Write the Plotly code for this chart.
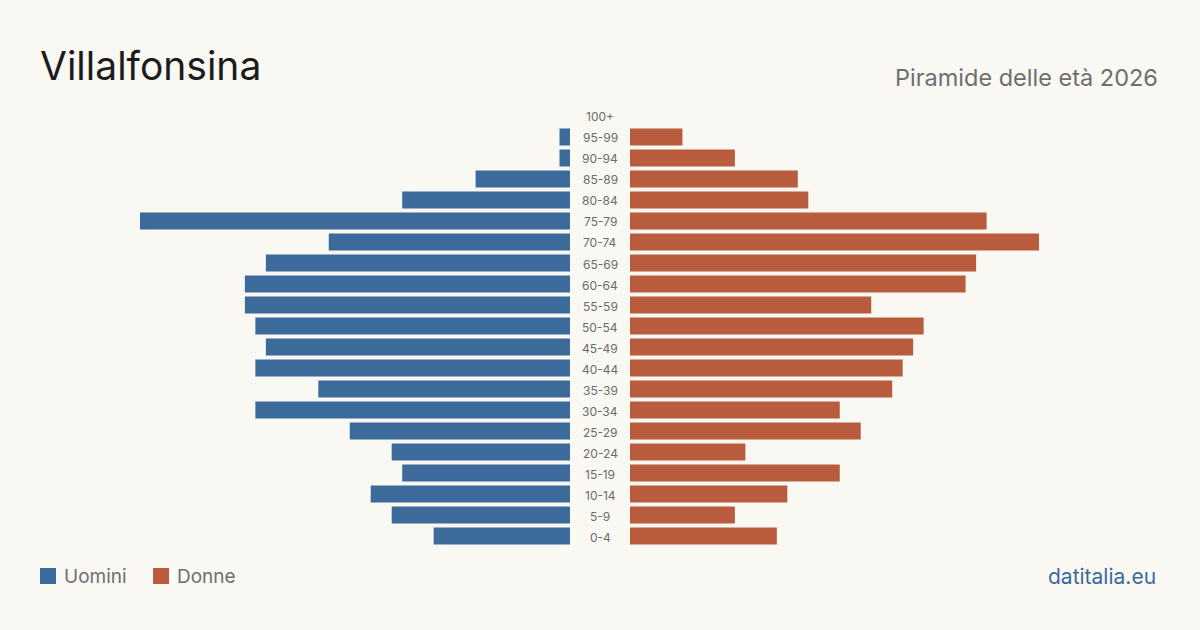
import plotly.graph_objects as go

ages = ["0-4", "5-9", "10-14", "15-19", "20-24", "25-29", "30-34", "35-39", "40-44",
        "45-49", "50-54", "55-59", "60-64", "65-69", "70-74", "75-79", "80-84",
        "85-89", "90-94", "95-99", "100+"]
uomini = [13, 17, 19, 16, 17, 21, 30, 24, 30, 29, 30, 31, 31, 29, 23, 41, 16, 9, 1, 1, 0]
donne = [14, 10, 15, 20, 11, 22, 20, 25, 26, 27, 28, 23, 32, 33, 39, 34, 17, 16, 10, 5, 0]

title = "Villalfonsina"
subtitle = "Piramide delle età 2026"
source = "datitalia.eu"
legend_names = ["Uomini", "Donne"]

W, H = 1200, 630
BLUE = "#3b6a9b"
ORANGE = "#b95c3d"
BG = "#f9f8f3"
FONT = "Inter, Roboto, sans-serif"

xmax = max(max(uomini), max(donne))

fig = go.Figure()
fig.add_trace(go.Bar(y=ages, x=uomini, orientation="h", marker=dict(color=BLUE, line=dict(width=0)),
                     name=legend_names[0], xaxis="x", yaxis="y", showlegend=False,
                     hoverinfo="x+y"))
fig.add_trace(go.Bar(y=ages, x=donne, orientation="h", marker=dict(color=ORANGE, line=dict(width=0)),
                     name=legend_names[1], xaxis="x2", yaxis="y", showlegend=False,
                     hoverinfo="x+y"))

y0 = (H - 546.5) / H
y1 = (H - 105.5) / H

fig.update_layout(
    width=W, height=H,
    paper_bgcolor=BG, plot_bgcolor=BG,
    margin=dict(l=0, r=0, t=0, b=0),
    bargap=0.19,
    xaxis=dict(domain=[140 / W, 570 / W], range=[xmax, 0], visible=False, fixedrange=True),
    xaxis2=dict(domain=[630 / W, 1060 / W], range=[0, xmax], visible=False, fixedrange=True),
    yaxis=dict(domain=[y0, y1], type="category", categoryorder="array",
               categoryarray=ages, range=[-0.5, len(ages) - 0.5], visible=False,
               fixedrange=True),
    font=dict(family=FONT),
)

annotations = []
for a in ages:
    annotations.append(dict(x=0.5, y=a, xref="paper", yref="y", text=a, showarrow=False,
                            font=dict(size=12, color="#6b6b6b", family=FONT),
                            xanchor="center", yanchor="middle", yshift=-1))

annotations.append(dict(x=38 / W, y=(H - 66) / H, xref="paper", yref="paper", text=title,
                        showarrow=False, xanchor="left", yanchor="middle",
                        font=dict(size=39, color="#1c1c1c", family=FONT)))
annotations.append(dict(x=1160 / W, y=(H - 77) / H, xref="paper", yref="paper", text=subtitle,
                        showarrow=False, xanchor="right", yanchor="middle",
                        font=dict(size=23.5, color="#6e6e6e", family=FONT)))
annotations.append(dict(x=1158 / W, y=(H - 576) / H, xref="paper", yref="paper", text=source,
                        showarrow=False, xanchor="right", yanchor="middle",
                        font=dict(size=21, color=BLUE, family=FONT)))
annotations.append(dict(x=62 / W, y=(H - 576) / H, xref="paper", yref="paper", text=legend_names[0],
                        showarrow=False, xanchor="left", yanchor="middle",
                        font=dict(size=19, color="#6e6e6e", family=FONT)))
annotations.append(dict(x=175 / W, y=(H - 576) / H, xref="paper", yref="paper", text=legend_names[1],
                        showarrow=False, xanchor="left", yanchor="middle",
                        font=dict(size=19, color="#6e6e6e", family=FONT)))

shapes = [
    dict(type="rect", xref="paper", yref="paper", x0=40 / W, x1=56 / W,
         y0=(H - 584) / H, y1=(H - 568) / H, fillcolor=BLUE, line=dict(width=0)),
    dict(type="rect", xref="paper", yref="paper", x0=153 / W, x1=169 / W,
         y0=(H - 584) / H, y1=(H - 568) / H, fillcolor=ORANGE, line=dict(width=0)),
]

fig.update_layout(annotations=annotations, shapes=shapes)
fig.write_html("out.html", config={"displayModeBar": False})
